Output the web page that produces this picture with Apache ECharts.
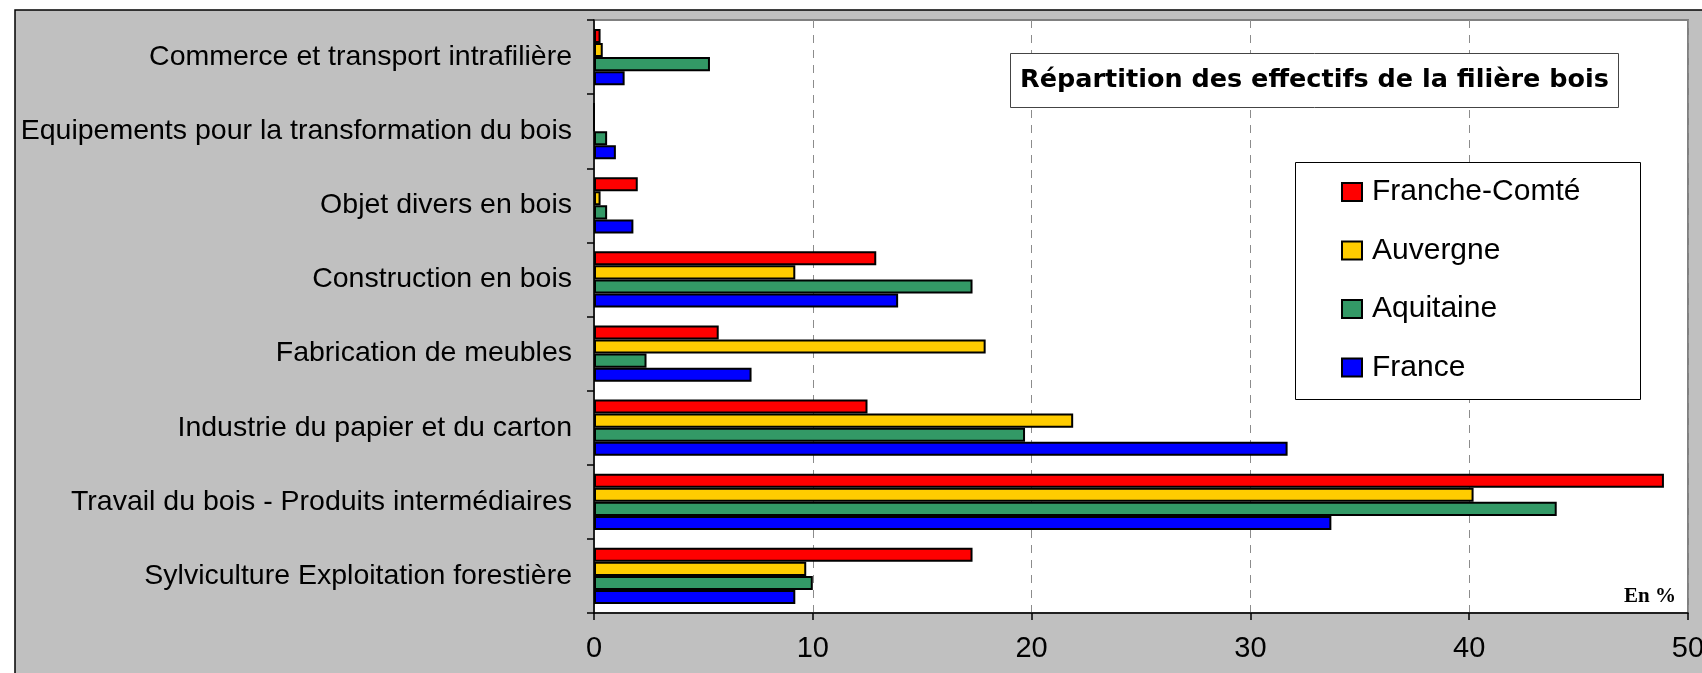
<!DOCTYPE html>
<html><head><meta charset="utf-8">
<script src="https://cdn.jsdelivr.net/npm/echarts@6/dist/echarts.min.js"></script>
<style>html,body{margin:0;padding:0;background:#fff;}#c{width:1702px;height:673px;}</style>
</head><body><div id="c"></div>
<script>
// Categories listed bottom to top (category axis starts at the bottom)
const categories = [
  'Sylviculture Exploitation forestière',
  'Travail du bois - Produits intermédiaires',
  'Industrie du papier et du carton',
  'Fabrication de meubles',
  'Construction en bois',
  'Objet divers en bois',
  'Equipements pour la transformation du bois',
  'Commerce et transport intrafilière'
];
const francheComte = [17.3, 48.9, 12.5, 5.7, 12.9, 2.0, 0, 0.3];
const auvergne     = [9.7, 40.2, 21.9, 17.9, 9.2, 0.3, 0, 0.4];
const aquitaine    = [10.0, 44.0, 19.7, 2.4, 17.3, 0.6, 0.6, 5.3];
const france       = [9.2, 33.7, 31.7, 7.2, 13.9, 1.8, 1.0, 1.4];
const seriesNames  = ['Franche-Comté', 'Auvergne', 'Aquitaine', 'France'];
const seriesColors = ['#FF0000', '#FFCC00', '#339966', '#0000FF'];
const xMin = 0, xMax = 50, xInterval = 10;
const titleText = 'Répartition des effectifs de la filière bois';
const unitText = 'En %';

const seriesData = [francheComte, auvergne, aquitaine, france];
const chart = echarts.init(document.getElementById('c'), null, {renderer: 'canvas'});
const option = {
  animation: false,
  backgroundColor: '#ffffff',
  title: {
    text: titleText, left: 1314.5, top: 80, textAlign: 'center', textVerticalAlign: 'middle',
    padding: 0, z: 6,
    textStyle: {fontFamily: 'DejaVu Sans', fontWeight: 'bold', fontSize: 25.5, color: '#000'}
  },
  legend: {
    orient: 'vertical', left: 1341, top: 177, itemWidth: 20, itemHeight: 18, itemGap: 28.5,
    data: seriesNames, icon: 'rect', selectedMode: false, padding: 0, z: 6,
    textStyle: {fontFamily: 'Liberation Sans', fontSize: 30, color: '#000', padding: [0, 0, 0, 5]}
  },
  grid: {
    left: 594, right: 14, top: 20, bottom: 60, show: true, backgroundColor: '#ffffff',
    borderColor: '#808080', borderWidth: 2, containLabel: false, outerBoundsMode: 'none'
  },
  xAxis: {
    type: 'value', min: xMin, max: xMax, interval: xInterval,
    axisLine: {show: true, lineStyle: {color: '#000', width: 1.5}},
    axisTick: {show: true, length: 7, lineStyle: {color: '#000', width: 1.5}},
    axisLabel: {fontFamily: 'Liberation Sans', fontSize: 29, color: '#000', margin: 21},
    splitLine: {show: true, lineStyle: {color: '#8c8c8c', width: 1, type: [8, 7]}}
  },
  yAxis: {
    type: 'category', data: categories,
    axisLine: {show: true, lineStyle: {color: '#000', width: 1.5}},
    axisTick: {show: true, length: 7, lineStyle: {color: '#000', width: 1.5}},
    axisLabel: {fontFamily: 'Liberation Sans', fontSize: 28.5, color: '#000', margin: 22},
    splitLine: {show: false}
  },
  graphic: [
    {type: 'rect', z: -10, shape: {x: 15, y: 10, width: 1720, height: 700},
     style: {fill: '#c0c0c0', stroke: '#000', lineWidth: 1.5}},
    {type: 'rect', z: 5, shape: {x: 1010.5, y: 53.5, width: 608, height: 54},
     style: {fill: '#fff', stroke: '#444', lineWidth: 1}},
    {type: 'rect', z: 5, shape: {x: 1295.5, y: 162.5, width: 345, height: 237},
     style: {fill: '#fff', stroke: '#000', lineWidth: 1}},
    {type: 'text', z: 6, x: 1676, y: 597,
     style: {text: unitText, fontFamily: 'Liberation Serif', fontWeight: 'bold', fontSize: 21,
             fill: '#000', align: 'right', verticalAlign: 'middle', textAlign: 'right', textVerticalAlign: 'middle'}}
  ],
  series: seriesNames.map((name, i) => ({
    name: name, type: 'bar', data: seriesData[i],
    barGap: '0%', barCategoryGap: '24%',
    itemStyle: {color: seriesColors[i], borderColor: '#000', borderWidth: 2}
  }))
};
chart.setOption(option);
</script>
</body></html>
